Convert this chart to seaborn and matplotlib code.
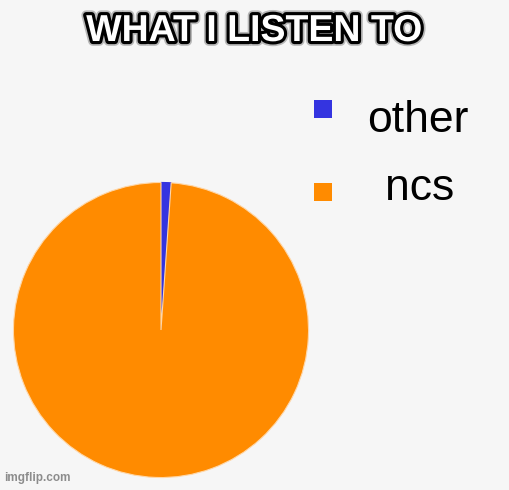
import matplotlib
matplotlib.use("Agg")
import matplotlib.pyplot as plt
import matplotlib.patheffects as pe
from matplotlib.patches import Rectangle
import seaborn as sns

# data
labels = ["other", "ncs"]
shares = [1.1, 98.9]
colors = ["#3434e0", "#ff8b00"]

title = "WHAT I LISTEN TO"
watermark = "imgflip.com"

sns.set_theme(style="white")
plt.rcParams['font.family'] = ['Liberation Sans', 'DejaVu Sans']

bg = "#f6f6f6"
W, H = 510, 490
fig = plt.figure(figsize=(W / 100, H / 100), dpi=100, facecolor=bg)

# pie axes: center (161, 330) px, radius 149 px
cx, cy, r = 161, 330, 149
ax = fig.add_axes([(cx - r) / W, (H - cy - r) / H, 2 * r / W, 2 * r / H])
ax.set_facecolor(bg)
wedges, _ = ax.pie(shares, colors=colors, startangle=90, counterclock=False,
                   radius=1, wedgeprops=dict(linewidth=0.8, edgecolor="#ffd7a8"))
wedges[0].set_edgecolor(colors[0])
ax.set_xlim(-1.01, 1.01)
ax.set_ylim(-1.01, 1.01)
ax.axis("off")

# legend, drawn by hand (square and label rows are not evenly spaced in the original)
sq_top = [100, 183]
txt_base = [132, 200]
txt_cx = [418, 420]
sq = 18
for lab, col, st, tb, tx in zip(labels, colors, sq_top, txt_base, txt_cx):
    fig.add_artist(Rectangle((314 / W, 1 - (st + sq) / H), sq / W, sq / H,
                             transform=fig.transFigure, facecolor=col,
                             edgecolor="none"))
    fig.text(tx / W, 1 - tb / H, lab, ha="center", va="baseline",
             fontsize=32, color="black")

fig.text(254 / W, 1 - 31 / H, title, ha="center", va="center",
         fontsize=27, fontweight="bold", color="white",
         path_effects=[pe.withStroke(linewidth=7, foreground="#00000040"),
                       pe.withStroke(linewidth=4.5, foreground="black")])

fig.text(4 / W, 1 - 478 / H, watermark, ha="left", va="center",
         fontsize=8.5, fontweight="bold", color="#8c8c8c")

fig.savefig("out.png", dpi=100, facecolor=bg)
